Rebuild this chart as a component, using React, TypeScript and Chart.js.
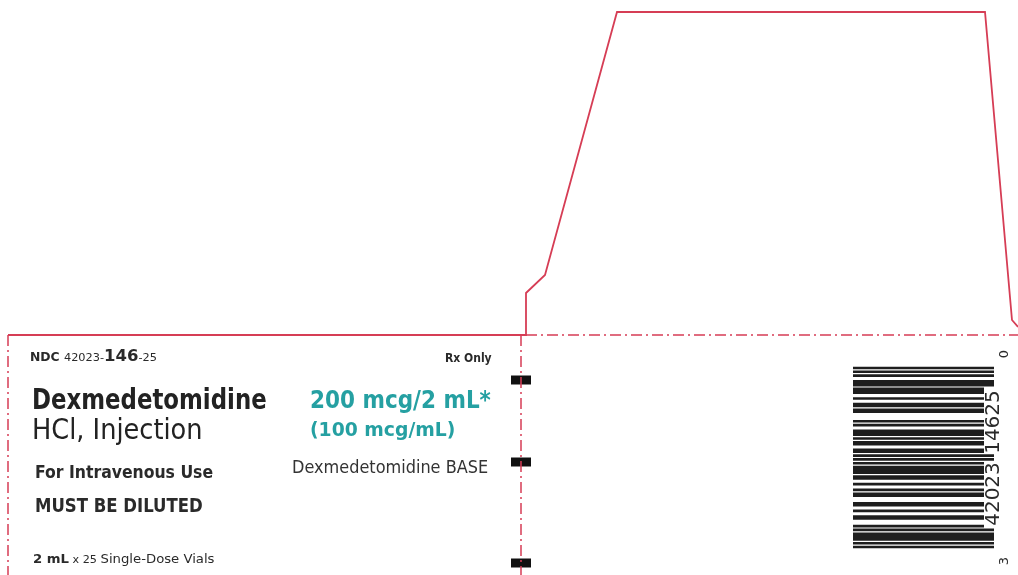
import React, { useEffect, useLayoutEffect, useRef, useState } from "react";
import { Chart, registerables } from "chart.js";

Chart.register(...registerables);

const W = 1018;
const H = 575;

// Die-cut outline (solid red)
const outlineX = [8, 526, 526, 545, 617, 985, 1012, 1018];
const outlineY = [335, 335, 293, 275, 12, 12, 320, 327];

// Fold lines (dash-dot red)
const foldTopX = [526, 1018];
const foldTopY = [335, 335];
const foldMidX = [521, 521];
const foldMidY = [335, 575];
const foldLeftX = [8, 8];
const foldLeftY = [335, 575];

// Black registration marks on the fold
const markY = [380, 462, 563];
const markX0 = 511;
const markX1 = 531;

// Barcode (UPC-A)
const barcodeDigits = [3, 4, 2, 0, 2, 3, 1, 4, 6, 2, 5, 0];
const L_CODES = ["0001101", "0011001", "0010011", "0111101", "0100011", "0110001", "0101111", "0111011", "0110111", "0001011"];
const R_CODES = ["1110010", "1100110", "1101100", "1000010", "1011100", "1001110", "1010000", "1000100", "1001000", "1110100"];
const barcodeBottom = 548;
const barcodeTop = 367;
const barcodeLeft = 853;
const barcodeRightShort = 984;
const barcodeRightLong = 994;

const RED = "#d63d55";
const TEAL = "#25a0a2";
const FONT = '"Liberation Sans Narrow", "DejaVu Sans Condensed", "Liberation Sans", Arial, sans-serif';

function pts(xs: number[], ys: number[]) {
  return xs.map((x, i) => ({ x, y: ys[i] }));
}

function buildBarcodeRuns() {
  const d = barcodeDigits;
  let bits = "101";
  for (let i = 0; i < 6; i++) bits += L_CODES[d[i]];
  bits += "01010";
  for (let i = 6; i < 12; i++) bits += R_CODES[d[i]];
  bits += "101";
  const isLong = (m: number) => m < 10 || (m >= 45 && m < 50) || m >= 85;
  const runs: { start: number; len: number; long: boolean }[] = [];
  let i = 0;
  while (i < bits.length) {
    if (bits[i] === "1") {
      let j = i;
      while (j < bits.length && bits[j] === "1") j++;
      runs.push({ start: i, len: j - i, long: isLong(i) });
      i = j;
    } else i++;
  }
  return { runs, modules: bits.length };
}

function Txt(props: {
  x: number;
  base: number;
  size: number;
  w?: number;
  right?: boolean;
  color?: string;
  weight?: number | string;
  children: React.ReactNode;
}) {
  const ref = useRef<HTMLDivElement>(null);
  const [k, setK] = useState(1);
  useLayoutEffect(() => {
    if (ref.current && props.w) {
      const w = ref.current.offsetWidth;
      if (w > 0) setK(props.w / w);
    }
  }, [props.w]);
  const left = props.right && props.w ? props.x - props.w : props.x;
  return (
    <div
      ref={ref}
      style={{
        position: "absolute",
        left,
        top: props.base - 0.8465 * props.size,
        fontSize: props.size,
        lineHeight: `${props.size}px`,
        fontFamily: FONT,
        fontWeight: props.weight ?? 400,
        color: props.color ?? "#2a2a2a",
        whiteSpace: "nowrap",
        transform: `scaleX(${k})`,
        transformOrigin: "left top",
      }}
    >
      {props.children}
    </div>
  );
}

function VText(props: { cx: number; cy: number; size: number; spacing?: number; children: React.ReactNode }) {
  return (
    <div
      style={{
        position: "absolute",
        left: props.cx,
        top: props.cy,
        transform: "translate(-50%, -50%) rotate(-90deg)",
        fontFamily: '"DejaVu Sans", "Liberation Sans", sans-serif',
        fontSize: props.size,
        lineHeight: `${props.size}px`,
        color: "#2a2a2a",
        whiteSpace: "nowrap",
        wordSpacing: props.spacing ?? 0,
      }}
    >
      {props.children}
    </div>
  );
}

export default function App() {
  const canvasRef = useRef<HTMLCanvasElement>(null);

  useEffect(() => {
    if (!canvasRef.current) return;
    const { runs, modules } = buildBarcodeRuns();
    const m = (barcodeBottom - barcodeTop) / modules;

    const line = (data: { x: number; y: number }[], color: string, width: number, dash: number[] = []) => ({
      data,
      showLine: true,
      borderColor: color,
      borderWidth: width,
      borderDash: dash,
      borderCapStyle: "butt" as const,
      borderJoinStyle: "miter" as const,
      pointRadius: 0,
      tension: 0,
      clip: false as any,
    });

    const datasets: any[] = [];
    datasets.push(line(pts(outlineX, outlineY), RED, 1.8));
    datasets.push(line(pts(foldTopX, foldTopY), RED, 1.5, [11, 4, 2, 4]));
    datasets.push(line(pts(foldMidX, foldMidY), RED, 1.5, [11, 4, 2, 4]));
    datasets.push(line(pts(foldLeftX, foldLeftY), RED, 1.5, [11, 4, 2, 4]));
    markY.forEach((y) => {
      datasets.push(line([{ x: markX0, y }, { x: markX1, y }], "#111111", 9));
    });
    runs.forEach((r) => {
      const yc = barcodeBottom - (r.start + r.len / 2) * m;
      datasets.push(
        line(
          [
            { x: barcodeLeft, y: yc },
            { x: r.long ? barcodeRightLong : barcodeRightShort, y: yc },
          ],
          "#1e1e1e",
          r.len * m + 0.7
        )
      );
    });

    const chart = new Chart(canvasRef.current, {
      type: "scatter",
      data: { datasets },
      options: {
        animation: false,
        responsive: false,
        maintainAspectRatio: false,
        events: [],
        layout: { padding: 0 },
        plugins: { legend: { display: false }, tooltip: { enabled: false }, title: { display: false } },
        scales: {
          x: { type: "linear", min: 0, max: W, display: false },
          y: { type: "linear", min: 0, max: H, reverse: true, display: false },
        },
      },
    });
    return () => chart.destroy();
  }, []);

  return (
    <div style={{ position: "fixed", left: 0, top: 0, width: W, height: H, background: "#fff", overflow: "hidden" }}>
      <canvas ref={canvasRef} width={W} height={H} style={{ position: "absolute", left: 0, top: 0, width: W, height: H }} />

      <Txt x={30} base={362} size={16} w={127}>
        <span style={{ fontSize: 12, fontWeight: 700 }}>NDC </span>
        <span style={{ fontSize: 11 }}>42023-</span>
        <span style={{ fontSize: 16, fontWeight: 700 }}>146</span>
        <span style={{ fontSize: 11 }}>-25</span>
      </Txt>
      <Txt x={492} base={362} size={12} w={47} right weight={700}>
        Rx Only
      </Txt>

      <Txt x={32} base={410} size={28} w={235} weight={700} color="#222">
        Dexmedetomidine
      </Txt>
      <Txt x={32} base={440} size={28} w={171} color="#222">
        HCl, Injection
      </Txt>
      <Txt x={35} base={478} size={18} w={178} weight={700}>
        For Intravenous Use
      </Txt>
      <Txt x={35} base={512} size={19} w={168} weight={700}>
        MUST BE DILUTED
      </Txt>
      <Txt x={33} base={563} size={13} w={182}>
        <span style={{ fontWeight: 700 }}>2 mL</span>
        <span style={{ fontSize: 11 }}> x 25 </span>
        <span>Single-Dose Vials</span>
      </Txt>

      <Txt x={310} base={408} size={25} w={181} weight={700} color={TEAL}>
        200 mcg/2 mL*
      </Txt>
      <Txt x={310} base={436} size={20} w={145} weight={700} color={TEAL}>
        (100 mcg/mL)
      </Txt>
      <Txt x={292} base={473} size={17} w={196} color="#333">
        Dexmedetomidine BASE
      </Txt>

      <VText cx={992} cy={458} size={20} spacing={2}>
        42023 14625
      </VText>
      <VText cx={1003} cy={354} size={13}>
        0
      </VText>
      <VText cx={1003} cy={561} size={13}>
        3
      </VText>
    </div>
  );
}
